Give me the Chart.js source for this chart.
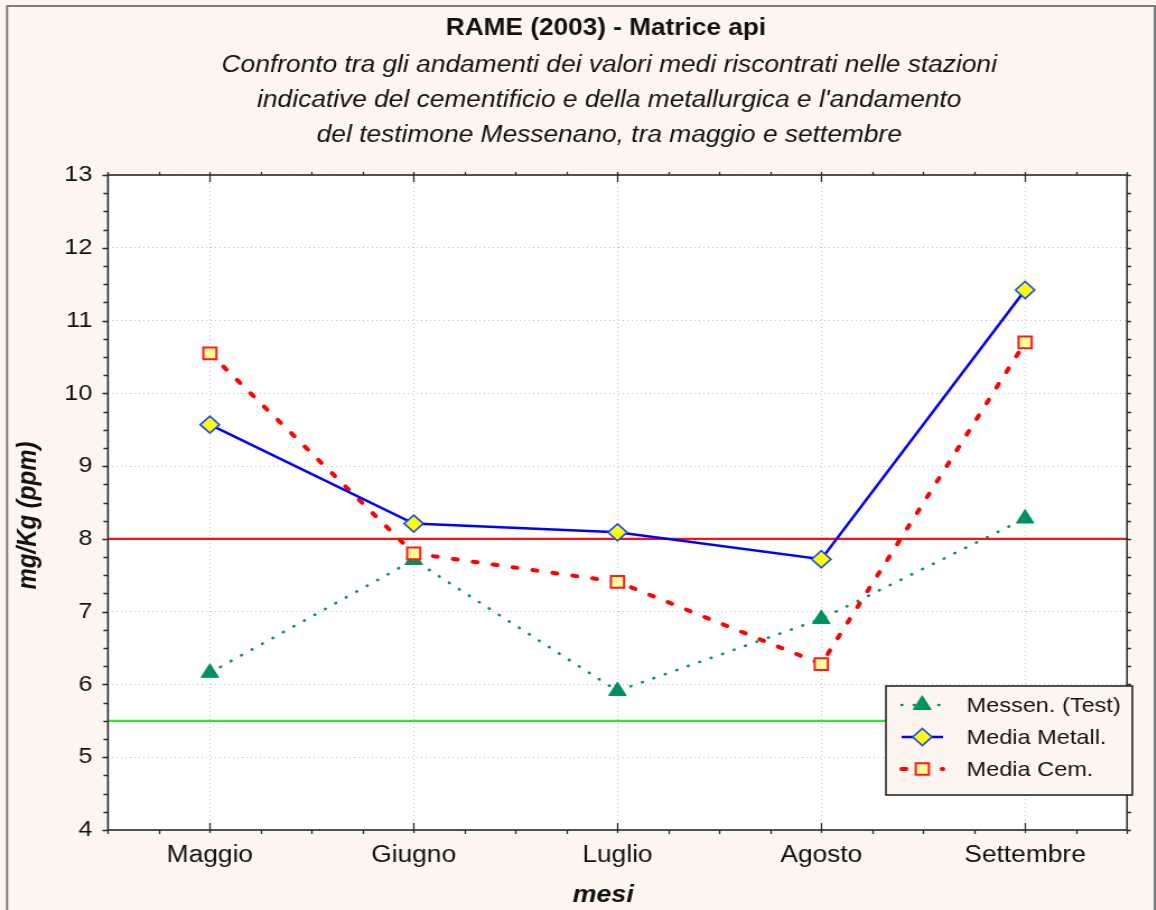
<!DOCTYPE html>
<html>
<head>
<meta charset="utf-8">
<title>RAME (2003) - Matrice api</title>
<script src="https://cdn.jsdelivr.net/npm/chart.js@4.4.1/dist/chart.umd.min.js"></script>
<style>
  html, body { margin: 0; padding: 0; background: #fdf6f0; overflow: hidden; }
  /* the chart is laid out narrow and stretched sideways, like the wide Statistica export */
  #wrap { width: 1032px; height: 910px; transform: scaleX(1.12); transform-origin: 0 0; }
  canvas { display: block; }
</style>
</head>
<body>
<div id="wrap"><canvas id="rame-chart" width="1032" height="910"></canvas></div>
<script>
const MONTHS = ['Maggio', 'Giugno', 'Luglio', 'Agosto', 'Settembre'];
const MESSEN_TEST = [6.16, 7.71, 5.91, 6.90, 8.28];
const MEDIA_METALL = [9.57, 8.21, 8.09, 7.72, 11.42];
const MEDIA_CEM = [10.55, 7.80, 7.41, 6.28, 10.70];
const Y_TICKS = [4, 5, 6, 7, 8, 9, 10, 11, 12, 13];
const LIMIT_RED = 8;
const LIMIT_GREEN = 5.5;

const TITLE = 'RAME (2003) - Matrice api';
const SUBTITLE = [
  'Confronto tra gli andamenti dei valori medi riscontrati nelle stazioni',
  "indicative del cementificio e della metallurgica e l'andamento",
  'del testimone Messenano, tra maggio e settembre',
];
const X_TITLE = 'mesi';
const Y_TITLE = 'mg/Kg (ppm)';

const CREAM = '#fdf6f0';
const FONT = "'Liberation Sans', Arial, sans-serif";
Chart.defaults.font.family = FONT;
Chart.defaults.color = '#111';

function markerPath(ctx, style, x, y, r) {
  ctx.beginPath();
  if (style === 'triangle') {
    ctx.moveTo(x, y - r);
    ctx.lineTo(x + r * Math.sin(Math.PI / 3), y + r / 2);
    ctx.lineTo(x - r * Math.sin(Math.PI / 3), y + r / 2);
  } else if (style === 'rectRot') {
    ctx.moveTo(x, y - r);
    ctx.lineTo(x + r, y);
    ctx.lineTo(x, y + r);
    ctx.lineTo(x - r, y);
  } else {
    const h = r * Math.SQRT1_2;
    ctx.rect(x - h, y - h, 2 * h, 2 * h);
  }
  ctx.closePath();
}

const decorations = {
  id: 'decorations',
  beforeDraw(chart) {
    const { ctx, chartArea: a, width, height } = chart;
    ctx.save();
    ctx.fillStyle = CREAM;
    ctx.fillRect(0, 0, width, height);
    ctx.strokeStyle = '#7d7d7d';
    ctx.lineWidth = 2;
    ctx.strokeRect(6.3, 6, width - 7.3, height + 10);
    ctx.fillStyle = '#ffffff';
    ctx.fillRect(a.left, a.top, a.right - a.left, a.bottom - a.top);
    ctx.restore();
  },
  beforeDatasetsDraw(chart) {
    const { ctx, chartArea: a, scales: { y } } = chart;
    ctx.save();
    ctx.lineWidth = 2.2;
    [[LIMIT_RED, '#ff1010'], [LIMIT_GREEN, '#2ee82e']].forEach(([v, c]) => {
      const py = y.getPixelForValue(v);
      ctx.strokeStyle = c;
      ctx.beginPath();
      ctx.moveTo(a.left, py);
      ctx.lineTo(a.right, py);
      ctx.stroke();
    });
    ctx.restore();
  },
  afterDatasetsDraw(chart) {
    const { ctx, chartArea: a, scales: { x, y } } = chart;
    ctx.save();

    // plot frame
    ctx.strokeStyle = '#2a2a2a';
    ctx.lineWidth = 1.6;
    ctx.strokeRect(a.left, a.top, a.right - a.left, a.bottom - a.top);

    // y ticks, majors on the integers and minors every quarter
    ctx.lineWidth = 1.3;
    ctx.beginPath();
    for (let v = y.min; v <= y.max + 1e-9; v += 0.25) {
      const py = Math.round(y.getPixelForValue(v)) + 0.5;
      const major = Math.abs(v - Math.round(v)) < 1e-9;
      ctx.moveTo(a.left - (major ? 5 : 4), py);
      ctx.lineTo(a.left, py);
      ctx.moveTo(a.right, py);
      ctx.lineTo(a.right + 3.6, py);
    }
    // x ticks, majors on the months and minors every quarter step
    for (let v = -0.5; v <= MONTHS.length - 0.5 + 1e-9; v += 0.25) {
      const px = Math.round(x.getPixelForValue(v)) + 0.5;
      const major = Math.abs(v - Math.round(v)) < 1e-9;
      if (major) {
        ctx.moveTo(px, a.bottom - 7);
        ctx.lineTo(px, a.bottom + 3);
        ctx.moveTo(px, a.top - 3);
        ctx.lineTo(px, a.top + 7);
      } else {
        ctx.moveTo(px, a.bottom);
        ctx.lineTo(px, a.bottom + 4);
        ctx.moveTo(px, a.top - 3);
        ctx.lineTo(px, a.top);
      }
    }
    ctx.stroke();

    // legend box
    const lx = 791, ly = 686, lw = 220, lh = 109;
    ctx.fillStyle = CREAM;
    ctx.fillRect(lx, ly, lw, lh);
    ctx.strokeStyle = '#1a1a1a';
    ctx.lineWidth = 1.5;
    ctx.strokeRect(lx, ly, lw, lh);

    [0, 1, 2].forEach((i) => {
      const ds = chart.data.datasets[i];
      const ry = 705 + i * 32;
      ctx.save();
      ctx.strokeStyle = ds.borderColor;
      ctx.lineWidth = ds.borderWidth;
      ctx.lineCap = ds.borderCapStyle || 'butt';
      ctx.setLineDash(ds.borderDash || []);
      ctx.beginPath();
      ctx.moveTo(805, ry);
      ctx.lineTo(842, ry);
      ctx.stroke();
      ctx.setLineDash([]);
      markerPath(ctx, ds.pointStyle, 823.5, ry, ds.pointRadius);
      ctx.fillStyle = ds.pointBackgroundColor;
      ctx.fill();
      ctx.lineWidth = ds.pointBorderWidth;
      ctx.strokeStyle = ds.pointBorderColor;
      ctx.stroke();
      ctx.restore();

      ctx.fillStyle = '#111';
      ctx.font = `21px ${FONT}`;
      ctx.textAlign = 'left';
      ctx.textBaseline = 'middle';
      ctx.fillText(ds.label, 863, ry + 1);
    });

    ctx.restore();
  },
  afterDraw(chart) {
    const { ctx } = chart;
    ctx.save();
    ctx.fillStyle = '#111';
    ctx.textAlign = 'center';
    ctx.textBaseline = 'middle';
    ctx.font = `bold 23.4px ${FONT}`;
    ctx.fillText(TITLE, 541, 29);
    ctx.font = `italic 23.5px ${FONT}`;
    SUBTITLE.forEach((line, i) => {
      ctx.fillText(line, 544, 65 + i * 35);
    });

    // axis titles
    ctx.font = `italic bold 24px ${FONT}`;
    ctx.fillText(X_TITLE, 538.5, 895);
    ctx.translate(25.4, 515.5);
    ctx.rotate(-Math.PI / 2);
    ctx.fillText(Y_TITLE, 0, 0);
    ctx.restore();
  },
};

new Chart(document.getElementById('rame-chart'), {
  type: 'line',
  data: {
    labels: MONTHS,
    datasets: [
      {
        label: 'Messen. (Test)',
        data: MESSEN_TEST,
        order: 2,
        borderColor: '#00905c',
        borderWidth: 2.6,
        borderDash: [0.5, 10.5],
        borderCapStyle: 'round',
        pointStyle: 'triangle',
        pointRadius: 9,
        pointBackgroundColor: '#00905c',
        pointBorderColor: '#00905c',
        pointBorderWidth: 1,
      },
      {
        label: 'Media Metall.',
        data: MEDIA_METALL,
        order: 0,
        borderColor: '#0000ff',
        borderWidth: 2.5,
        pointStyle: 'rectRot',
        pointRadius: 8.5,
        pointBackgroundColor: '#ffff00',
        pointBorderColor: '#1a4cff',
        pointBorderWidth: 1.7,
      },
      {
        label: 'Media Cem.',
        data: MEDIA_CEM,
        order: 1,
        borderColor: '#ff0000',
        borderWidth: 4,
        borderDash: [4, 14],
        borderCapStyle: 'round',
        pointStyle: 'rect',
        pointRadius: 8.3,
        pointBackgroundColor: '#ffff99',
        pointBorderColor: '#ff1a1a',
        pointBorderWidth: 2,
      },
    ],
  },
  options: {
    responsive: false,
    animation: false,
    devicePixelRatio: 1,
    layout: { padding: { left: 0, right: 25.75, top: 175, bottom: 0 } },
    plugins: {
      legend: { display: false },
      tooltip: { enabled: false },
    },
    scales: {
      x: {
        offset: true,
        afterFit: (axis) => { axis.height = 80; },
        grid: { color: '#c2c2c2', lineWidth: 1, drawTicks: false, offset: false },
        border: { display: false, dash: [1, 3] },
        ticks: { font: { size: 23.5 }, padding: 11, color: '#111' },
      },
      y: {
        min: 4,
        max: 13,
        afterBuildTicks: (axis) => { axis.ticks = Y_TICKS.map((v) => ({ value: v })); },
        afterFit: (axis) => { axis.width = 96.4; },
        grid: { color: '#c2c2c2', lineWidth: 1, drawTicks: false },
        border: { display: false, dash: [1, 3] },
        ticks: { font: { size: 22.5 }, padding: 14, color: '#111' },
      },
    },
  },
  plugins: [decorations],
});
</script>
</body>
</html>
